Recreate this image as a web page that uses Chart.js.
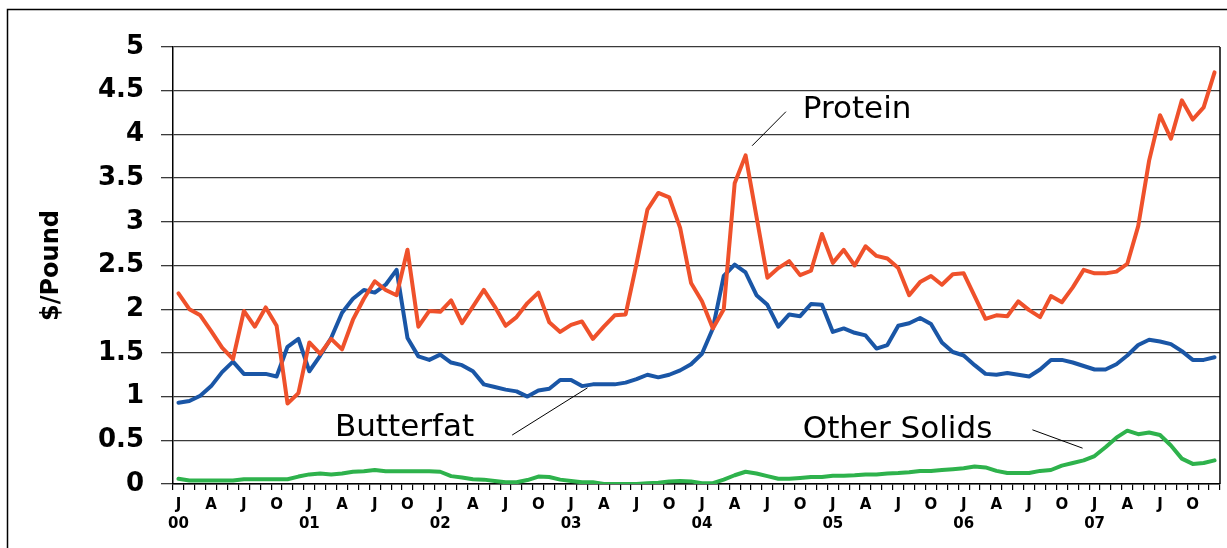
<!DOCTYPE html>
<html>
<head>
<meta charset="utf-8">
<script src="https://cdn.jsdelivr.net/npm/chart.js@4"></script>
<style>
  html, body { margin: 0; padding: 0; background: #fff; }
  #wrap { width: 1227px; height: 548px; }
</style>
</head>
<body>
<div id="wrap"><canvas id="grafica" width="1227" height="548"></canvas></div>
<script>
// months Jan 2000 .. Dec 2007
const years = ['00', '01', '02', '03', '04', '05', '06', '07'];
const monthInitials = ['J', 'F', 'M', 'A', 'M', 'J', 'J', 'A', 'S', 'O', 'N', 'D'];
const shownMonths = [0, 3, 6, 9];

const protein = [
  2.18, 2.00, 1.93, 1.75, 1.56, 1.43, 1.98, 1.80, 2.02, 1.81, 0.92, 1.04,
  1.62, 1.49, 1.66, 1.54, 1.88, 2.12, 2.32, 2.22, 2.16, 2.68, 1.80, 1.98,
  1.97, 2.10, 1.84, 2.03, 2.22, 2.03, 1.81, 1.91, 2.07, 2.19, 1.85, 1.74,
  1.82, 1.86, 1.66, 1.80, 1.93, 1.94, 2.52, 3.14, 3.33, 3.28, 2.93, 2.30,
  2.09, 1.78, 2.00, 3.44, 3.76, 3.06, 2.36, 2.47, 2.55, 2.39, 2.44, 2.86,
  2.53, 2.68, 2.50, 2.72, 2.61, 2.58, 2.47, 2.16, 2.31, 2.38, 2.28, 2.40,
  2.41, 2.15, 1.89, 1.93, 1.92, 2.09, 1.99, 1.91, 2.15, 2.08, 2.25, 2.45,
  2.41, 2.41, 2.43, 2.52, 2.95, 3.70, 4.22, 3.95, 4.39, 4.17, 4.31, 4.71
];
const butterfat = [
  0.93, 0.95, 1.01, 1.12, 1.28, 1.40, 1.26, 1.26, 1.26, 1.23, 1.57, 1.66,
  1.29, 1.47, 1.67, 1.96, 2.12, 2.22, 2.19, 2.28, 2.45, 1.67, 1.46, 1.42,
  1.48, 1.39, 1.36, 1.29, 1.14, 1.11, 1.08, 1.06, 1.00, 1.07, 1.09, 1.19,
  1.19, 1.12, 1.14, 1.14, 1.14, 1.16, 1.20, 1.25, 1.22, 1.25, 1.30, 1.37,
  1.49, 1.78, 2.38, 2.51, 2.42, 2.16, 2.05, 1.80, 1.94, 1.92, 2.06, 2.05,
  1.74, 1.78, 1.73, 1.70, 1.55, 1.59, 1.81, 1.84, 1.90, 1.83, 1.62, 1.51,
  1.47, 1.36, 1.26, 1.25, 1.27, 1.25, 1.23, 1.31, 1.42, 1.42, 1.39, 1.35,
  1.31, 1.31, 1.37, 1.47, 1.59, 1.65, 1.63, 1.60, 1.52, 1.42, 1.42, 1.45
];
const otherSolids = [
  0.06, 0.04, 0.04, 0.04, 0.04, 0.04, 0.055, 0.055, 0.055, 0.055, 0.055, 0.085,
  0.11, 0.12, 0.11, 0.12, 0.14, 0.145, 0.16, 0.145, 0.145, 0.145, 0.145, 0.145,
  0.14, 0.09, 0.075, 0.055, 0.05, 0.035, 0.02, 0.02, 0.045, 0.085, 0.08, 0.05,
  0.035, 0.02, 0.02, 0.0, 0.0, 0.0, 0.0, 0.01, 0.015, 0.03, 0.035, 0.03,
  0.01, 0.01, 0.05, 0.10, 0.14, 0.12, 0.09, 0.06, 0.06, 0.07, 0.08, 0.08,
  0.095, 0.095, 0.10, 0.11, 0.11, 0.12, 0.125, 0.135, 0.15, 0.15, 0.16, 0.17,
  0.18, 0.20, 0.19, 0.15, 0.125, 0.125, 0.125, 0.15, 0.16, 0.21, 0.24, 0.27,
  0.32, 0.42, 0.53, 0.61, 0.57, 0.59, 0.56, 0.44, 0.29, 0.23, 0.24, 0.27
];

const labels = [];
years.forEach(y => monthInitials.forEach(m => labels.push(m + ' ' + y)));

// text labels on the plot, placed in data units (month index, $/lb)
const notes = [
  { text: 'Protein',      x: 57.24, y: 4.19, from: [52.6, 3.87], to: [55.7, 4.26] },
  { text: 'Butterfat',    x: 14.35, y: 0.55, from: [30.6, 0.56], to: [37.5, 1.10] },
  { text: 'Other Solids', x: 57.24, y: 0.53, from: [78.3, 0.62], to: [82.9, 0.41] }
];

const decor = {
  id: 'decor',
  beforeDraw(chart) {
    const ctx = chart.ctx;
    ctx.save();
    ctx.strokeStyle = '#000';
    ctx.lineWidth = 1.5;
    ctx.strokeRect(7.5, 9.5, 1400, 800);
    ctx.restore();
  },
  afterDraw(chart) {
    const ctx = chart.ctx, a = chart.chartArea;
    const xs = chart.scales.x, ys = chart.scales.y;
    ctx.save();
    ctx.strokeStyle = '#000';
    ctx.lineWidth = 1.5;
    ctx.beginPath();
    ctx.moveTo(a.right, a.top);
    ctx.lineTo(a.right, a.bottom);
    ctx.stroke();

    ctx.fillStyle = '#000';
    ctx.font = '31px "DejaVu Sans"';
    ctx.textBaseline = 'alphabetic';
    ctx.lineWidth = 1;
    notes.forEach(n => {
      ctx.fillText(n.text, xs.getPixelForValue(n.x), ys.getPixelForValue(n.y));
      ctx.beginPath();
      ctx.moveTo(xs.getPixelForValue(n.from[0]), ys.getPixelForValue(n.from[1]));
      ctx.lineTo(xs.getPixelForValue(n.to[0]), ys.getPixelForValue(n.to[1]));
      ctx.stroke();
    });
    ctx.restore();
  }
};

const graph = document.querySelector('#grafica');

new Chart(graph, {
  type: 'line',
  data: {
    labels: labels,
    datasets: [
      { label: 'Protein', data: protein, borderColor: '#EF512B' },
      { label: 'Butterfat', data: butterfat, borderColor: '#1A56A6' },
      { label: 'Other Solids', data: otherSolids, borderColor: '#2EB24C' }
    ]
  },
  options: {
    responsive: false,
    animation: false,
    layout: { padding: { left: 0, right: 7, top: 47, bottom: 0 } },
    plugins: { legend: { display: false }, tooltip: { enabled: false } },
    elements: {
      point: { radius: 0 },
      line: { borderWidth: 4, tension: 0, borderJoinStyle: 'round', borderCapStyle: 'round', fill: false }
    },
    scales: {
      x: {
        type: 'category',
        offset: true,
        grid: { display: true, drawOnChartArea: false, tickLength: 6, color: '#000', lineWidth: 1.2, offset: true },
        border: { display: true, color: '#000', width: 1.5 },
        ticks: {
          autoSkip: false, maxRotation: 0, minRotation: 0, padding: 6, color: '#000',
          font: { family: 'DejaVu Sans', weight: 'bold', size: 15, lineHeight: 1.27 },
          callback: (v, i) => {
            const m = i % 12;
            if (!shownMonths.includes(m)) return '';
            return m === 0 ? [monthInitials[m], years[Math.floor(i / 12)]] : monthInitials[m];
          }
        },
        afterFit: s => { s.height = 64; }
      },
      y: {
        min: 0, max: 5,
        ticks: {
          stepSize: 0.5, padding: 17, color: '#000',
          font: { family: 'DejaVu Sans', weight: 'bold', size: 26 },
          callback: v => String(Number(v.toFixed(1)))
        },
        grid: { color: '#3a3a3a', lineWidth: 1.3, tickLength: 12 },
        border: { color: '#000', width: 1.5 },
        title: {
          display: true, text: '$/Pound', color: '#000',
          font: { family: 'DejaVu Sans', weight: 'bold', size: 24 },
          padding: { top: 37, bottom: 0 }
        },
        afterFit: s => { s.width = 173; }
      }
    }
  },
  plugins: [decor]
});
</script>
</body>
</html>
